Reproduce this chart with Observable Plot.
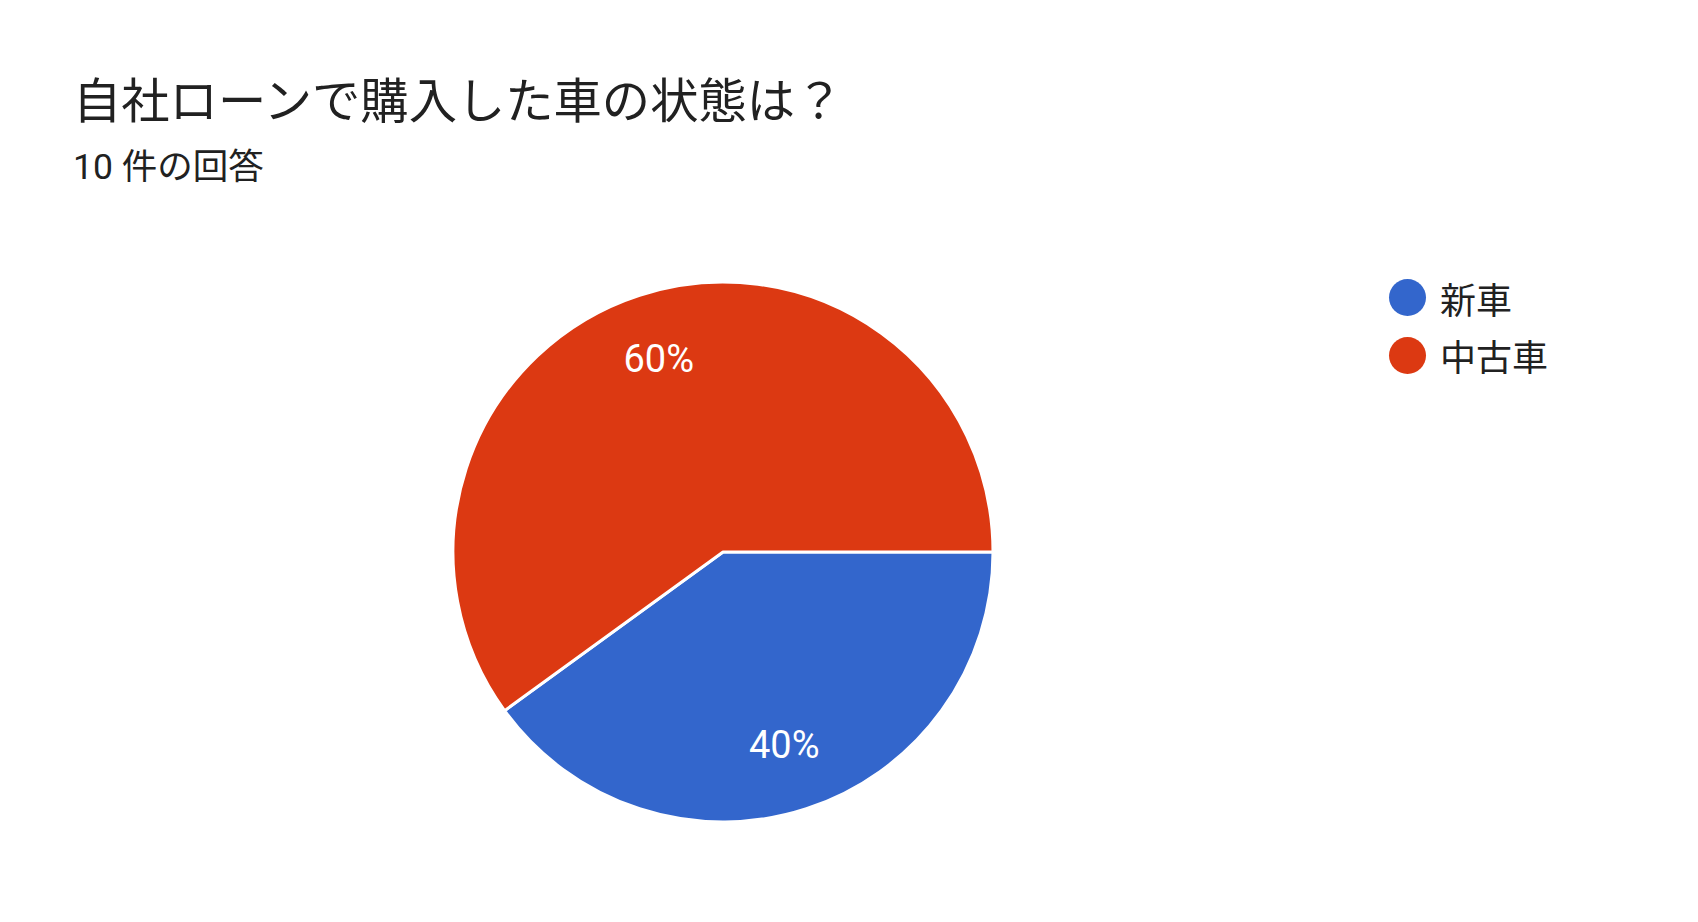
<!DOCTYPE html>
<html>
<head>
<meta charset="utf-8">
<script src="https://cdn.jsdelivr.net/npm/d3@7"></script>
<script src="https://cdn.jsdelivr.net/npm/@observablehq/plot@0.6"></script>
<style>
  html, body { margin: 0; padding: 0; background: #fff; }
  body { width: 1698px; height: 922px; position: relative; overflow: hidden;
         font-family: Roboto, "Noto Sans CJK JP", sans-serif; color: #212121; }
  #title { position: absolute; left: 73px; top: 78px; font-size: 48.3px; line-height: 1; white-space: nowrap; }
  #subtitle { position: absolute; left: 73px; top: 150px; font-size: 35.5px; line-height: 1; white-space: nowrap; }
  #chart { position: absolute; left: 0; top: 200px; }
  #legend { position: absolute; left: 1389px; top: 269px; }
  .item { display: flex; align-items: center; height: 57.5px; font-size: 36px; }
  .sw { width: 37px; height: 37px; border-radius: 50%; margin-right: 14px; }
</style>
</head>
<body>
<div id="title"></div>
<div id="subtitle"></div>
<div id="chart"></div>
<div id="legend"></div>
<script>
const titleText = "自社ローンで購入した車の状態は？";
const subtitleText = "10 件の回答";
const categories = ["新車", "中古車"];
const values = [4, 6];
const colors = ["#3366cc", "#dc3912"];

document.getElementById("title").textContent = titleText;
document.getElementById("subtitle").textContent = subtitleText;

const total = d3.sum(values);
const data = categories.map((c, i) => ({category: c, value: values[i]}));
const arcs = d3.pie().sort(null).value(d => d.value)
  .startAngle(Math.PI / 2).endAngle(Math.PI / 2 + 2 * Math.PI)(data);
const labelR = 0.752;
const labels = arcs.map(a => {
  const m = (a.startAngle + a.endAngle) / 2;
  return {x: Math.sin(m) * labelR, y: Math.cos(m) * labelR,
          text: Math.round(a.data.value / total * 100) + "%"};
});

function pieMark(index, scales, values, dims, context) {
  const cx = scales.x(0), cy = scales.y(0);
  const r = scales.x(1) - scales.x(0);
  const arcGen = d3.arc().innerRadius(0).outerRadius(r);
  const g = d3.create("svg:g").attr("transform", `translate(${cx},${cy})`);
  g.selectAll("path").data(arcs).join("path")
    .attr("d", arcGen)
    .attr("fill", d => scales.color(d.data.category))
    .attr("stroke", "#fff")
    .attr("stroke-width", 3)
    .attr("stroke-linejoin", "round");
  return g.node();
}

const plot = Plot.plot({
  width: 1698,
  height: 722,
  margin: 0,
  style: {background: "transparent", fontFamily: "Roboto, 'Noto Sans CJK JP', sans-serif"},
  x: {domain: [-1, 1], range: [453, 993], axis: null},
  y: {domain: [-1, 1], range: [622, 82], axis: null},
  color: {domain: categories, range: colors},
  marks: [
    pieMark,
    Plot.text(labels, {x: "x", y: "y", text: "text", fill: "#fff", fontSize: 38, textAnchor: "middle", dx: -2})
  ]
});
document.getElementById("chart").appendChild(plot);

const legend = d3.select("#legend");
categories.forEach((c, i) => {
  const it = legend.append("div").attr("class", "item");
  it.append("div").attr("class", "sw").style("background", plot.scale("color").apply(c));
  it.append("span").text(c);
});
</script>
</body>
</html>
